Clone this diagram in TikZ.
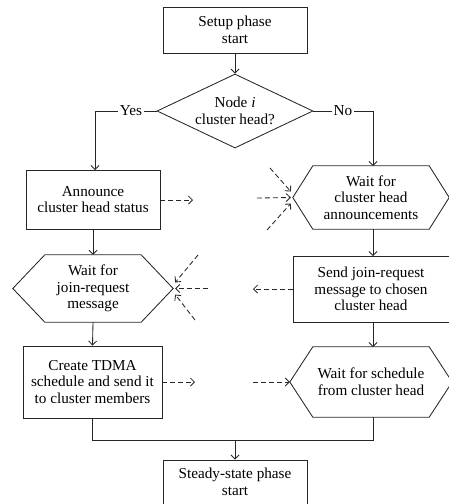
\documentclass[tikz,border=0pt]{standalone}
\usepackage{fontspec}
\setmainfont{Liberation Serif}
\usetikzlibrary{arrows.meta,calc,shapes.geometric}
\begin{document}
\begin{tikzpicture}[x=1pt,y=-1pt,
  font=\fontsize{15.2}{16.6}\selectfont,
  every node/.style={align=center,inner sep=2pt},
  line/.style={draw=black!85,line width=0.85pt},
  flow/.style={line,-{Straight Barb[length=4pt,width=8pt]}},
  msg/.style={line,dashed,dash pattern=on 5pt off 3pt,-{Straight Barb[length=4pt,width=8pt]}},
  boxnode/.style={line,rectangle},
  hexnode/.style={rectangle,draw=none},
  lbl/.style={fill=white,inner sep=2pt}]
\useasboundingbox (0,0) rectangle (449,504);
\newcommand{\hexout}[2]{\draw[line] ($(#1.north west)+(#2,0)$) -- ($(#1.north east)+(-#2,0)$) -- (#1.east) -- ($(#1.south east)+(-#2,0)$) -- ($(#1.south west)+(#2,0)$) -- (#1.west) -- cycle;}

% nodes
\node[boxnode,minimum width=144pt,minimum height=46pt] (start) at (235,30) {Setup phase\\start};
\node[line,diamond,shape aspect=2.1,minimum width=156pt,minimum height=74pt,inner sep=0pt] (dec) at (235,111) {Node \textit{i}\\cluster head?};
\node[boxnode,minimum width=134pt,minimum height=59pt] (ann) at (93,199.5) {Announce\\cluster head status};
\node[hexnode,minimum width=156pt,minimum height=63pt] (w1) at (371,197.5) {Wait for\\cluster head\\announcements};
\hexout{w1}{20}
\node[hexnode,minimum width=160pt,minimum height=67pt] (w2) at (93,288.5) {Wait for\\join-request\\message};
\hexout{w2}{32}
\node[boxnode,minimum width=156pt,minimum height=66pt] (send) at (371,289) {Send join-request\\message to chosen\\cluster head};
\node[boxnode,minimum width=139pt,minimum height=72pt] (tdma) at (92.5,382) {Create TDMA\\schedule and send it\\to cluster members};
\node[hexnode,minimum width=162pt,minimum height=70pt] (w3) at (371,382) {Wait for schedule\\from cluster head};
\hexout{w3}{23}
\node[boxnode,minimum width=144pt,minimum height=44pt] (steady) at (235,482) {Steady-state phase\\start};

% solid flow
\draw[flow] (start) -- (dec);
\draw[flow] (dec.west) -- (95,111) -- (95,170);
\draw[flow] (dec.east) -- (373,111) -- (373,166);
\node[lbl] (yes) at (131,111) {Yes};
\node[lbl] (no) at (343,111) {No};
\draw[flow] (ann.south) -- (w2.north);
\draw[flow] (w2.south) -- (tdma.north);
\draw[flow] (w1.south -| 373,0) -- (373,256);
\draw[flow] (send.south -| 373,0) -- (373,347);
\coordinate (mid) at (235,440);
\draw[line] (tdma.south) -- (92.5,440) -- (373,440) -- (w3.south -| 373,0);
\draw[flow] (mid) -- (steady.north);

% message arrows
\coordinate (a1) at (193,200);
\draw[msg] (ann.east |- a1) -- (a1);
\coordinate (b1) at (257,198);
\coordinate (b2) at (270,168);
\coordinate (b3) at (267,230);
\draw[msg] (b1) -- ($(w1.west)+(-2,0)$);
\draw[msg] (b2) -- ($(w1.west)+(-2,-6)$);
\draw[msg] (b3) -- ($(w1.west)+(-2,6)$);
\coordinate (c1) at (253,289);
\draw[msg] (send.west) -- (c1);
\coordinate (d1) at (208,288.5);
\coordinate (d2) at (198,255);
\coordinate (d3) at (195,320);
\draw[msg] (d1) -- ($(w2.east)+(2,0)$);
\draw[msg] (d2) -- ($(w2.east)+(2,-6)$);
\draw[msg] (d3) -- ($(w2.east)+(2,6)$);
\coordinate (e1) at (195,382);
\draw[msg] (tdma.east) -- (e1);
\coordinate (f1) at (253,382);
\draw[msg] (f1) -- (w3.west);
\end{tikzpicture}
\end{document}
